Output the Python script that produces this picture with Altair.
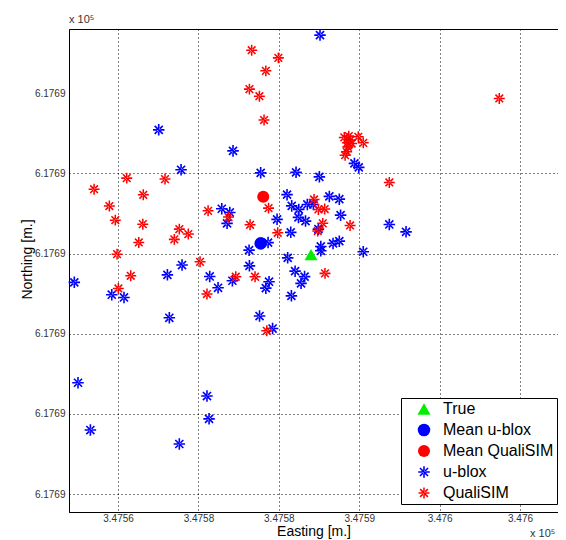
import altair as alt
import pandas as pd

# ---- data (local metres offset; axis labels reproduce the MATLAB tick text) ----
ublox_e = [12.56, 2.53, 7.15, 3.92, 8.87, 11.07, 12.52, 14.70, 14.97, 10.51,
           10.80, 11.24, 11.77, 12.15, 13.14, 13.76, 13.84, 11.22, 11.66, 9.89,
           6.45, 6.95, 6.78, 10.74, 12.46, 13.37, 13.76, 12.61, 12.61, 15.25,
           16.87, 17.91, 9.33, 8.15, 8.17, 9.39, 9.19, 8.80, 9.61, 10.55,
           11.01, 11.60, 11.38, 10.78, 3.98, 3.07, 5.70, 7.11, 6.22, -2.72,
           -0.39, 0.37, 3.19, -2.49, 5.53, 5.66, -1.72, 3.81]
ublox_n = [28.62, 22.71, 21.40, 20.22, 20.03, 20.06, 19.78, 20.62, 20.37, 18.67,
           17.97, 17.75, 18.06, 18.06, 18.56, 18.39, 17.39, 17.25, 17.02, 17.13,
           17.79, 17.56, 16.88, 16.32, 16.52, 15.63, 15.77, 15.44, 15.17, 15.11,
           16.81, 16.35, 15.68, 15.21, 14.23, 13.24, 12.84, 11.10, 10.32, 14.73,
           13.90, 13.56, 13.14, 12.36, 14.28, 13.67, 13.57, 13.30, 12.86, 13.20,
           12.43, 12.26, 10.99, 6.94, 6.11, 4.69, 3.99, 3.12]

qualisim_e = [8.31, 9.97, 9.19, 8.17, 8.79, 9.08, 23.71, -1.49, 0.54, 2.92,
              1.57, -0.54, -0.17, 5.60, 6.87, 9.36, 1.54, 1.29, 3.81, 4.37,
              3.50, -0.06, 0.79, 0.02, 8.21, 9.93, 5.10, 7.32, 8.52, 5.53,
              9.25, 14.07, 14.35, 14.94, 15.25, 14.53, 14.29, 14.22, 14.12, 14.43,
              14.26, 16.87, 12.19, 12.46, 12.85, 12.73, 12.42, 14.43, 12.87]
qualisim_n = [27.68, 27.20, 26.39, 25.25, 24.81, 23.32, 24.67, 19.01, 19.70, 19.64,
              18.66, 17.96, 17.08, 17.66, 17.27, 17.83, 16.83, 15.69, 16.52, 16.21,
              15.88, 14.96, 13.61, 12.82, 16.79, 16.29, 14.48, 13.55, 13.55, 12.47,
              10.18, 22.24, 22.32, 22.28, 21.90, 21.86, 21.65, 21.34, 21.13, 22.07,
              21.90, 19.43, 18.37, 17.75, 17.77, 16.88, 16.40, 16.75, 13.76]

mean_ublox = [8.87, 15.63]
mean_qualisim = [9.03, 18.54]
true_pos = [12.00, 14.93]

x_ticks = [0, 5, 10, 15, 20, 25]
x_tick_labels = ["3.4756", "3.4758", "3.4758", "3.4759", "3.476", "3.476"]
y_ticks = [0, 5, 10, 15, 20, 25]
y_tick_labels = ["6.1769", "6.1769", "6.1769", "6.1769", "6.1769", "6.1769"]

series_order = ["True", "Mean u-blox", "Mean QualiSIM", "u-blox", "QualiSIM"]
series_colors = ["#00ee00", "#0000ff", "#ff0000", "#0000ff", "#ff0000"]

# ---- table ----
rows = []
for e, n in zip(ublox_e, ublox_n):
    rows.append({"e": e, "n": n, "series": "u-blox"})
for e, n in zip(qualisim_e, qualisim_n):
    rows.append({"e": e, "n": n, "series": "QualiSIM"})
rows.append({"e": mean_ublox[0], "n": mean_ublox[1], "series": "Mean u-blox"})
rows.append({"e": mean_qualisim[0], "n": mean_qualisim[1], "series": "Mean QualiSIM"})
rows.append({"e": true_pos[0], "n": true_pos[1], "series": "True"})
df = pd.DataFrame(rows)

# asterisk glyph built from thin filled bars (unit box -1..1)
w = 0.14
d = 0.1
ASTERISK = (
    f"M{-w},-1L{w},-1L{w},1L{-w},1Z"
    f"M-1,{-w}L1,{-w}L1,{w}L-1,{w}Z"
    f"M{-0.7+d},{-0.7-d}L{0.7+d},{0.7-d}L{0.7-d},{0.7+d}L{-0.7-d},{-0.7+d}Z"
    f"M{-0.7+d},{0.7+d}L{0.7+d},{-0.7+d}L{0.7-d},{-0.7-d}L{-0.7-d},{0.7-d}Z"
)
series_shapes = ["triangle-up", "circle", "circle", ASTERISK, ASTERISK]
series_sizes = [170, 120, 120, 42, 42]

FONT = "Liberation Sans"

xlab = "[" + ",".join(f"'{s}'" for s in x_tick_labels) + "][round(datum.value/5)]"
ylab = "[" + ",".join(f"'{s}'" for s in y_tick_labels) + "][round(datum.value/5)]"

legend = alt.Legend(
    title=None, orient="none", legendX=332, legendY=369,
    strokeColor="black", fillColor="white", padding=3,
    labelFont=FONT, labelFontSize=16, labelColor="black",
    symbolOffset=12, labelOffset=11, rowPadding=5,
    symbolStrokeWidth=0, cornerRadius=0,
)

points = alt.Chart(df).mark_point(filled=True, opacity=1, strokeWidth=0).encode(
    x=alt.X("e:Q",
            scale=alt.Scale(domain=[-3.05, 27.36], nice=False, zero=False),
            axis=alt.Axis(values=x_ticks, labelExpr=xlab, title="Easting [m.]",
                          grid=True, ticks=False, labelPadding=1, titlePadding=1)),
    y=alt.Y("n:Q",
            scale=alt.Scale(domain=[-1.12, 29.0], nice=False, zero=False),
            axis=alt.Axis(values=y_ticks, labelExpr=ylab, title="Northing [m.]",
                          grid=True, ticks=False, labelPadding=4,
                          titleX=-35, titleY=230,
                          gridOpacity={"condition": {"test": "datum.value === 25", "value": 0},
                                       "value": 1})),
    color=alt.Color("series:N", scale=alt.Scale(domain=series_order, range=series_colors),
                    legend=legend),
    shape=alt.Shape("series:N", scale=alt.Scale(domain=series_order, range=series_shapes),
                    legend=legend),
    size=alt.Size("series:N", scale=alt.Scale(domain=series_order, range=series_sizes),
                  legend=legend),
)

exp_df = pd.DataFrame({"t": ["x 10⁵"]})
exp_top = alt.Chart(exp_df).mark_text(font=FONT, fontSize=11, align="left",
                                      baseline="bottom", color="#333").encode(
    x=alt.value(0), y=alt.value(-4), text="t:N")
exp_bot = alt.Chart(exp_df).mark_text(font=FONT, fontSize=11, align="left",
                                      baseline="bottom", color="#333").encode(
    x=alt.value(461), y=alt.value(510), text="t:N")

chart = alt.layer(points, exp_top, exp_bot).properties(
    width=489, height=483,
    autosize="none",
    padding={"left": 61, "top": 21, "right": 0, "bottom": 32},
).configure_view(stroke="black", strokeWidth=1).configure_axis(
    labelFont=FONT, labelFontSize=10, labelColor="#333",
    titleFont=FONT, titleFontSize=14, titleFontWeight="normal", titleColor="black",
    domainColor="black", domainWidth=1,
    gridColor="black", gridDash=[1, 3], gridWidth=1,
)

chart.save("out.html", embed_options={"renderer": "svg", "actions": False})
